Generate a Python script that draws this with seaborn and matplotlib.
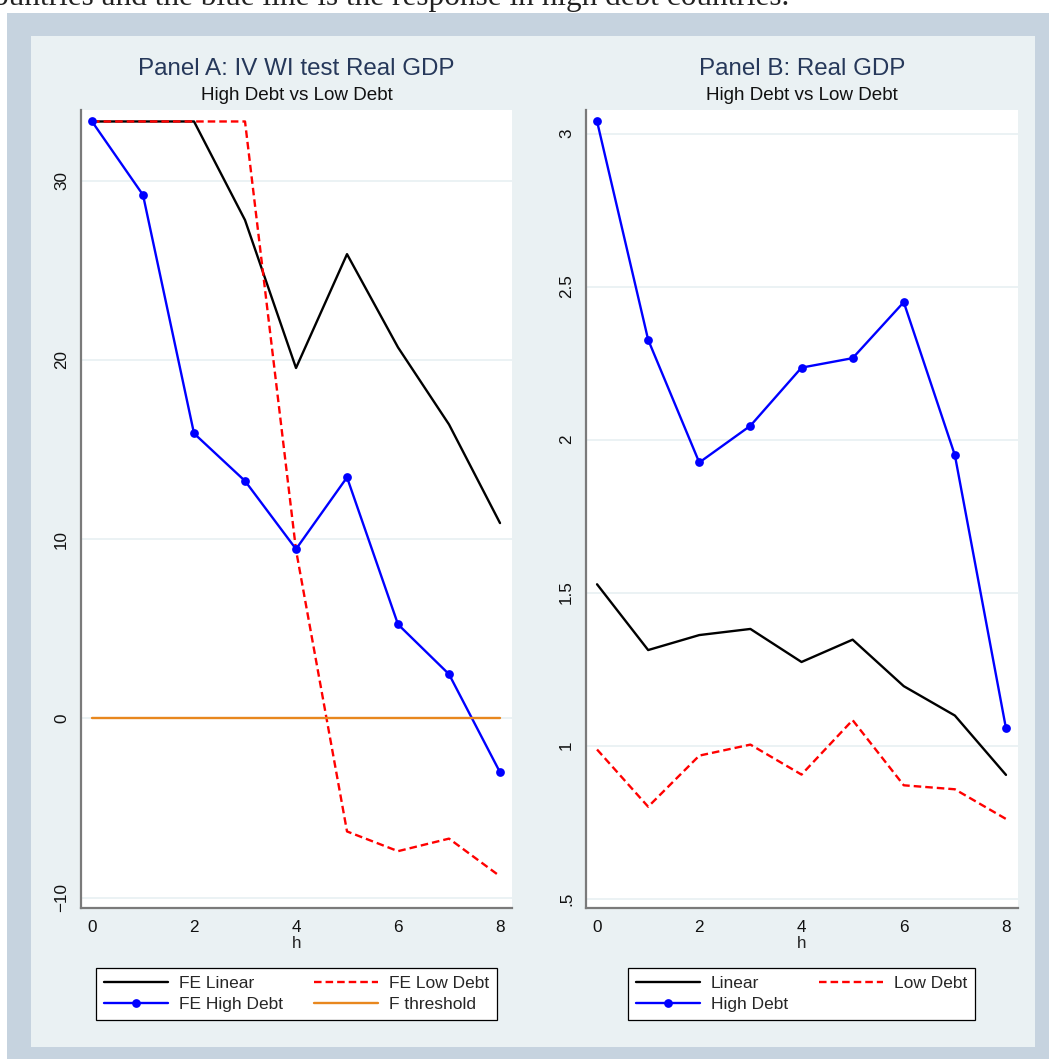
import numpy as np
import pandas as pd
import matplotlib
matplotlib.use("Agg")
import matplotlib.pyplot as plt
import seaborn as sns
from matplotlib.patches import Rectangle

# ==========================================
# Data
# ==========================================
horizon = [0, 1, 2, 3, 4, 5, 6, 7, 8]

# Panel A: IV WI test Real GDP
fe_linear = [33.3, 33.3, 33.3, 27.8, 19.55, 25.9, 20.7, 16.4, 10.9]
fe_low_debt = [33.3, 33.3, 33.3, 33.3, 9.4, -6.3, -7.4, -6.7, -8.8]
fe_high_debt = [33.3, 29.2, 15.9, 13.25, 9.45, 13.45, 5.25, 2.47, -3.0]
f_threshold = [0, 0, 0, 0, 0, 0, 0, 0, 0]

# Panel B: Real GDP
linear = [1.527, 1.312, 1.361, 1.381, 1.273, 1.346, 1.194, 1.098, 0.904]
low_debt = [0.987, 0.800, 0.967, 1.003, 0.905, 1.083, 0.870, 0.857, 0.760]
high_debt = [3.040, 2.326, 1.925, 2.045, 2.235, 2.266, 2.449, 1.949, 1.056]

x_ticks = [0, 2, 4, 6, 8]
a_yticks = [-10, 0, 10, 20, 30]
a_ylabels = ["\u221210", "0", "10", "20", "30"]
b_yticks = [0.5, 1, 1.5, 2, 2.5, 3]
b_ylabels = [".5", "1", "1.5", "2", "2.5", "3"]

# ==========================================
# Style
# ==========================================
W, H = 1049, 1059
OUTER = "#C6D3DF"
INNER = "#EAF1F3"
GRID = "#E8F0F2"
TITLE_C = "#26385A"
RED = "#FF0000"
BLUE = "#0000FF"
ORANGE = "#E8871E"
DASH = (0, (3.2, 1.7))
LW = 1.7

sns.set_style("white")
plt.rcParams["font.family"] = ["Liberation Sans", "DejaVu Sans"]
plt.rcParams["axes.unicode_minus"] = True


def fx(px):
    return px / W


def fy(py):
    return 1 - py / H


fig = plt.figure(figsize=(W / 100, H / 100), dpi=100, facecolor="white")

# outer frame and inner region of the combined graph
fig.patches.append(Rectangle((fx(7), 0), 1 - fx(7), fy(13), transform=fig.transFigure,
                             facecolor=OUTER, edgecolor="none", zorder=-10))
fig.patches.append(Rectangle((fx(31), fy(1047)), fx(1035) - fx(31), fy(36) - fy(1047),
                             transform=fig.transFigure, facecolor=INNER,
                             edgecolor="none", zorder=-9))

# caption fragment cut off at the top of the page (as in the source)
fig.text(fx(-7), fy(5), "ountries and the blue line is the response in high debt countries.",
         family=["Liberation Serif", "DejaVu Serif"], fontsize=22.5, ha="left",
         va="baseline", color="#222222")


def make_axes(left_px, right_px):
    ax = fig.add_axes([fx(left_px), fy(908), fx(right_px) - fx(left_px), fy(110) - fy(908)])
    ax.set_facecolor("white")
    for s in ["top", "right"]:
        ax.spines[s].set_visible(False)
    for s in ["left", "bottom"]:
        ax.spines[s].set_color("#7A7A7A")
        ax.spines[s].set_linewidth(1.6)
    ax.tick_params(axis="both", length=5, width=1.0, color="#333333",
                   labelsize=12.3, labelcolor="#111111", pad=3.5)
    ax.set_xticks(x_ticks)
    ax.set_xticklabels([str(t) for t in x_ticks])
    ax.set_xlim(-0.216, 8.235)
    ax.grid(axis="y", color=GRID, linewidth=1.2)
    ax.grid(axis="x", visible=False)
    ax.set_axisbelow(True)
    ax.set_xlabel("h", fontsize=12.3, labelpad=1)
    ax.set_ylabel("")
    return ax


def panel_titles(center_px, title):
    fig.text(fx(center_px), fy(75), title, ha="center", va="baseline",
             fontsize=17.4, color=TITLE_C)
    fig.text(fx(center_px), fy(100), "High Debt vs Low Debt", ha="center",
             va="baseline", fontsize=13.6, color="#111111")


def style_yticks(ax, ticks, labels):
    ax.set_yticks(ticks)
    ax.set_yticklabels(labels, rotation=90, va="center")


def add_legend(ax, order, center_px):
    h, l = ax.get_legend_handles_labels()
    leg = ax.legend([h[i] for i in order], [l[i] for i in order], ncol=2, loc="center",
                    bbox_to_anchor=(fx(center_px), fy(994)), bbox_transform=fig.transFigure,
                    fontsize=12.5, frameon=True, fancybox=False, framealpha=1,
                    edgecolor="black", facecolor="white", handlelength=3.7,
                    handletextpad=0.65, columnspacing=1.75, labelspacing=0.3,
                    borderpad=0.45, borderaxespad=0)
    leg.get_frame().set_linewidth(0.9)


# ==========================================
# Panel A
# ==========================================
ax_a = make_axes(81, 512)
df_a = pd.DataFrame({"h": horizon, "linear": fe_linear, "low": fe_low_debt,
                     "high": fe_high_debt, "thr": f_threshold})
sns.lineplot(data=df_a, x="h", y="linear", ax=ax_a, color="black", linewidth=LW,
             label="FE Linear")
sns.lineplot(data=df_a, x="h", y="low", ax=ax_a, color=RED, linewidth=LW,
             linestyle=DASH, label="FE Low Debt")
sns.lineplot(data=df_a, x="h", y="high", ax=ax_a, color=BLUE, linewidth=LW,
             marker="o", markersize=6.3, markeredgewidth=0, label="FE High Debt")
sns.lineplot(data=df_a, x="h", y="thr", ax=ax_a, color=ORANGE, linewidth=LW,
             label="F threshold")
ax_a.set_ylim(-10.57, 33.94)
style_yticks(ax_a, a_yticks, a_ylabels)
ax_a.set_ylabel("")
panel_titles(296.5, "Panel A: IV WI test Real GDP")
add_legend(ax_a, [0, 2, 1, 3], 296.5)

# ==========================================
# Panel B
# ==========================================
ax_b = make_axes(586, 1018)
df_b = pd.DataFrame({"h": horizon, "linear": linear, "low": low_debt, "high": high_debt})
sns.lineplot(data=df_b, x="h", y="linear", ax=ax_b, color="black", linewidth=LW,
             label="Linear")
sns.lineplot(data=df_b, x="h", y="low", ax=ax_b, color=RED, linewidth=LW,
             linestyle=DASH, label="Low Debt")
sns.lineplot(data=df_b, x="h", y="high", ax=ax_b, color=BLUE, linewidth=LW,
             marker="o", markersize=6.3, markeredgewidth=0, label="High Debt")
ax_b.set_ylim(0.469, 3.077)
style_yticks(ax_b, b_yticks, b_ylabels)
ax_b.set_ylabel("")
panel_titles(802, "Panel B: Real GDP")
add_legend(ax_b, [0, 2, 1], 801.5)

fig.savefig("out.png", dpi=100, facecolor="white")
